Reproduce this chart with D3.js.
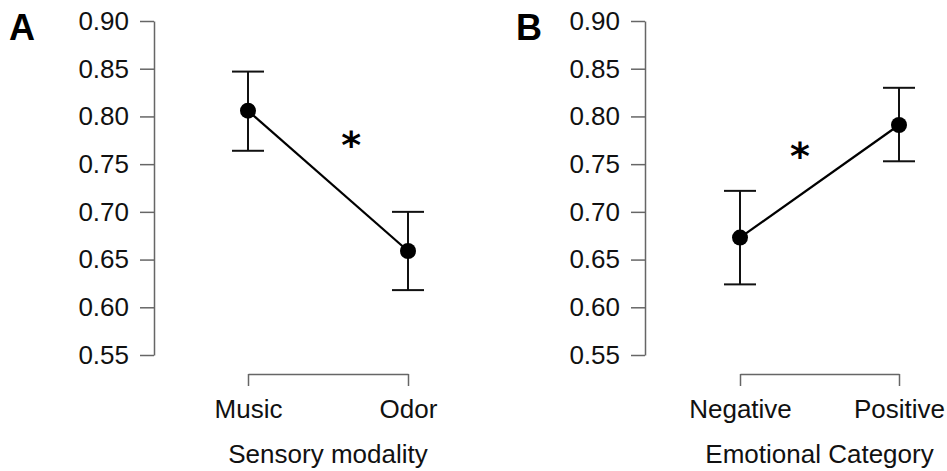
<!DOCTYPE html>
<html>
<head>
<meta charset="utf-8">
<script src="https://cdn.jsdelivr.net/npm/d3@7"></script>
<style>
  html, body { margin: 0; padding: 0; background: #fff; }
  svg { display: block; font-family: "Liberation Sans", Arial, Helvetica, sans-serif; }
</style>
</head>
<body>
<svg id="chart" width="947" height="471"></svg>
<script>
// ---- Data ----
const yTicks = [0.55, 0.60, 0.65, 0.70, 0.75, 0.80, 0.85, 0.90];

const categoriesA = ["Music", "Odor"];
const meansA = [0.806, 0.659];
const lowerA = [0.764, 0.618];
const upperA = [0.847, 0.700];

const categoriesB = ["Negative", "Positive"];
const meansB = [0.673, 0.791];
const lowerB = [0.624, 0.753];
const upperB = [0.722, 0.830];

const panelLabels = ["A", "B"];
const axisTitles = ["Sensory modality", "Emotional Category"];
const sigMarks = ["*", "*"];
const sigY = [0.779, 0.768];

// ---- Layout ----
const svg = d3.select("#chart");
const panels = [
  { cats: categoriesA, means: meansA, lo: lowerA, hi: upperA, axisX: 154, x0: 248, x1: 408,
    label: panelLabels[0], labelX: 9, title: axisTitles[0], sig: sigMarks[0], sigY: sigY[0], sigFrac: 0.645 },
  { cats: categoriesB, means: meansB, lo: lowerB, hi: upperB, axisX: 645, x0: 740, x1: 899,
    label: panelLabels[1], labelX: 516, title: axisTitles[1], sig: sigMarks[1], sigY: sigY[1], sigFrac: 0.377 }
];

const y = d3.scaleLinear().domain([0.55, 0.90]).range([355, 21]);
const fontSize = 26;
const axisColor = "#666";

panels.forEach(p => {
  const g = svg.append("g");
  const x = d3.scalePoint().domain(p.cats).range([p.x0, p.x1]).padding(0);

  // Y axis
  const yAxis = g.append("g")
    .attr("transform", `translate(${p.axisX},0)`)
    .call(d3.axisLeft(y).tickValues(yTicks).tickFormat(d3.format(".2f"))
      .tickSize(14).tickSizeOuter(0).tickPadding(11));
  yAxis.selectAll("path, line").attr("stroke", axisColor).attr("stroke-width", 1.5);
  yAxis.selectAll("text").attr("font-size", fontSize).attr("fill", "#111")
    .attr("font-family", "'Liberation Sans', Arial, sans-serif");

  // X axis bracket
  const xAxis = g.append("g")
    .attr("transform", "translate(0,374)")
    .call(d3.axisBottom(x).tickSize(12).tickSizeOuter(0).tickPadding(14));
  xAxis.selectAll("path, line").attr("stroke", axisColor).attr("stroke-width", 1.5);
  xAxis.selectAll("text").attr("font-size", fontSize).attr("fill", "#111")
    .attr("font-family", "'Liberation Sans', Arial, sans-serif");

  // Axis title
  g.append("text")
    .attr("x", (p.x0 + p.x1) / 2)
    .attr("y", 463)
    .attr("text-anchor", "middle")
    .attr("font-size", fontSize)
    .attr("fill", "#111")
    .text(p.title);

  // Panel label
  g.append("text")
    .attr("x", p.labelX)
    .attr("y", 40)
    .attr("font-size", 36)
    .attr("font-weight", "bold")
    .attr("fill", "#000")
    .text(p.label);

  const data = p.cats.map((c, i) => ({ c, m: p.means[i], lo: p.lo[i], hi: p.hi[i] }));

  // Error bars
  const eb = g.append("g").attr("stroke", "#111").attr("stroke-width", 2);
  eb.selectAll("line.v").data(data).join("line")
    .attr("x1", d => x(d.c)).attr("x2", d => x(d.c))
    .attr("y1", d => y(d.lo)).attr("y2", d => y(d.hi));
  eb.selectAll("line.top").data(data).join("line")
    .attr("x1", d => x(d.c) - 16).attr("x2", d => x(d.c) + 16)
    .attr("y1", d => y(d.hi)).attr("y2", d => y(d.hi));
  eb.selectAll("line.bot").data(data).join("line")
    .attr("x1", d => x(d.c) - 16).attr("x2", d => x(d.c) + 16)
    .attr("y1", d => y(d.lo)).attr("y2", d => y(d.lo));

  // Connecting line
  g.append("path")
    .datum(data)
    .attr("fill", "none")
    .attr("stroke", "#000")
    .attr("stroke-width", 2.2)
    .attr("d", d3.line().x(d => x(d.c)).y(d => y(d.m)));

  // Points
  g.selectAll("circle").data(data).join("circle")
    .attr("cx", d => x(d.c)).attr("cy", d => y(d.m))
    .attr("r", 8).attr("fill", "#000");

  // Significance mark
  g.append("text")
    .attr("x", p.x0 + (p.x1 - p.x0) * p.sigFrac)
    .attr("y", y(p.sigY) + 22)
    .attr("text-anchor", "middle")
    .attr("font-size", 38)
    .attr("font-weight", "bold")
    .attr("font-family", "'DejaVu Sans', sans-serif")
    .attr("fill", "#000")
    .text(p.sig);
});
</script>
</body>
</html>
